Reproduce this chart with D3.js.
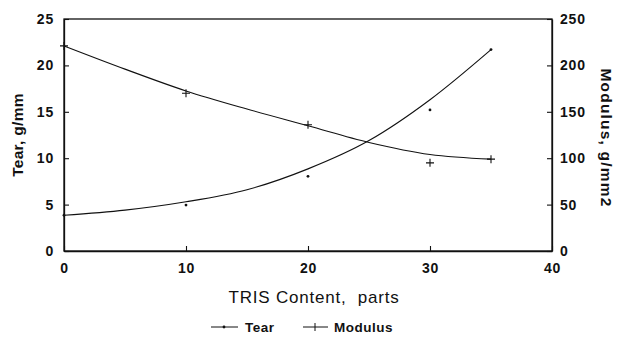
<!DOCTYPE html>
<html><head><meta charset="utf-8">
<script src="https://cdn.jsdelivr.net/npm/d3@7"></script>
<style>
body{margin:0;background:#fff;}
svg{display:block;}
text{font-family:"Liberation Sans",Arial,Helvetica,sans-serif;fill:#111;}
</style></head>
<body>
<svg id="chart" width="618" height="338"></svg>
<script>
// Measured points
const tris = [0, 10, 20, 30, 35];
const tear = [3.85, 4.95, 8.05, 15.2, 21.7];          // g/mm (left axis)
const modulus = [221, 170, 136, 95, 99];               // g/mm2 (right axis)
// Fitted curves
const curveX = [0, 5, 10, 15, 20, 25, 30, 35];
const tearCurve = [3.85, 4.4, 5.3, 6.6, 8.85, 11.9, 16.3, 21.7];
const modulusCurve = [221, 196, 172.5, 153, 135, 117, 104, 99];
// Ticks
const xTicks = [0, 10, 20, 30, 40];
const leftTicks = [0, 5, 10, 15, 20, 25];
const rightTicks = [0, 50, 100, 150, 200, 250];

const svg = d3.select("#chart");
const L = 64, R = 552, T = 19, B = 251;
const x = d3.scaleLinear().domain([0, 40]).range([L, R]);
const yL = d3.scaleLinear().domain([0, 25]).range([B, T]);
const yR = d3.scaleLinear().domain([0, 250]).range([B, T]);

const ink = "#111";
// frame
svg.append("rect").attr("x", L).attr("y", T).attr("width", R - L).attr("height", B - T)
  .attr("fill", "none").attr("stroke", ink).attr("stroke-width", 1.3);

const tickFont = 14;
const gx = svg.append("g").attr("transform", `translate(0,${B})`)
  .call(d3.axisBottom(x).tickValues(xTicks).tickFormat(d3.format("d")).tickSizeInner(-5).tickSizeOuter(0).tickPadding(12));
const gl = svg.append("g").attr("transform", `translate(${L},0)`)
  .call(d3.axisLeft(yL).tickValues(leftTicks).tickFormat(d3.format("d")).tickSizeInner(-5).tickSizeOuter(0).tickPadding(10));
const gr = svg.append("g").attr("transform", `translate(${R},0)`)
  .call(d3.axisRight(yR).tickValues(rightTicks).tickFormat(d3.format("d")).tickSizeInner(-5).tickSizeOuter(0).tickPadding(8));
[gx, gl, gr].forEach(g => {
  g.select(".domain").attr("stroke", ink).attr("stroke-width", 1.3);
  g.selectAll(".tick line").attr("stroke", ink).attr("stroke-width", 1.1);
  g.selectAll(".tick text").attr("font-size", tickFont).attr("font-weight", "bold")
    .attr("font-family", '"Liberation Sans",Arial,sans-serif').attr("fill", ink)
    .attr("letter-spacing", 0.8);
});

// curves
const lineL = d3.line().x((d, i) => x(curveX[i])).y(d => yL(d)).curve(d3.curveMonotoneX);
const lineR = d3.line().x((d, i) => x(curveX[i])).y(d => yR(d)).curve(d3.curveMonotoneX);
svg.append("path").attr("d", lineL(tearCurve)).attr("fill", "none").attr("stroke", ink).attr("stroke-width", 1.1);
svg.append("path").attr("d", lineR(modulusCurve)).attr("fill", "none").attr("stroke", ink).attr("stroke-width", 1.1);

// markers
svg.append("g").selectAll("circle").data(tear).join("circle")
  .attr("cx", (d, i) => x(tris[i])).attr("cy", d => yL(d)).attr("r", 1.4).attr("fill", ink);
svg.append("g").selectAll("path").data(modulus).join("path")
  .attr("d", (d, i) => `M${x(tris[i]) - 4},${yR(d)}h8M${x(tris[i])},${yR(d) - 4}v8`)
  .attr("stroke", ink).attr("stroke-width", 1.1).attr("fill", "none");

// axis titles
svg.append("text").attr("transform", `translate(23,135) rotate(-90)`).attr("text-anchor", "middle")
  .attr("font-size", 15.5).attr("font-weight", "bold").attr("letter-spacing", 0.3).text("Tear, g/mm");
svg.append("text").attr("transform", `translate(601,138) rotate(90)`).attr("text-anchor", "middle")
  .attr("font-size", 15.5).attr("font-weight", "bold").attr("letter-spacing", 1.2).text("Modulus, g/mm2");
svg.append("text").attr("x", 314).attr("y", 303).attr("text-anchor", "middle")
  .attr("font-size", 17).attr("letter-spacing", 0.8).style("white-space", "pre").text("TRIS Content,  parts");

// legend
const legY = 327;
const leg = svg.append("g");
leg.append("line").attr("x1", 211).attr("x2", 238).attr("y1", legY).attr("y2", legY).attr("stroke", ink).attr("stroke-width", 1);
leg.append("circle").attr("cx", 224).attr("cy", legY).attr("r", 1.4).attr("fill", ink);
leg.append("text").attr("x", 245).attr("y", legY + 5).attr("font-size", 13.5).attr("font-weight", "bold").attr("letter-spacing", 0.5).text("Tear");
leg.append("line").attr("x1", 303).attr("x2", 328).attr("y1", legY).attr("y2", legY).attr("stroke", ink).attr("stroke-width", 1);
leg.append("path").attr("d", `M${315},${legY - 4}v8`).attr("stroke", ink).attr("stroke-width", 1);
leg.append("text").attr("x", 334).attr("y", legY + 5).attr("font-size", 13.5).attr("font-weight", "bold").attr("letter-spacing", 0.5).text("Modulus");
</script>
</body></html>
